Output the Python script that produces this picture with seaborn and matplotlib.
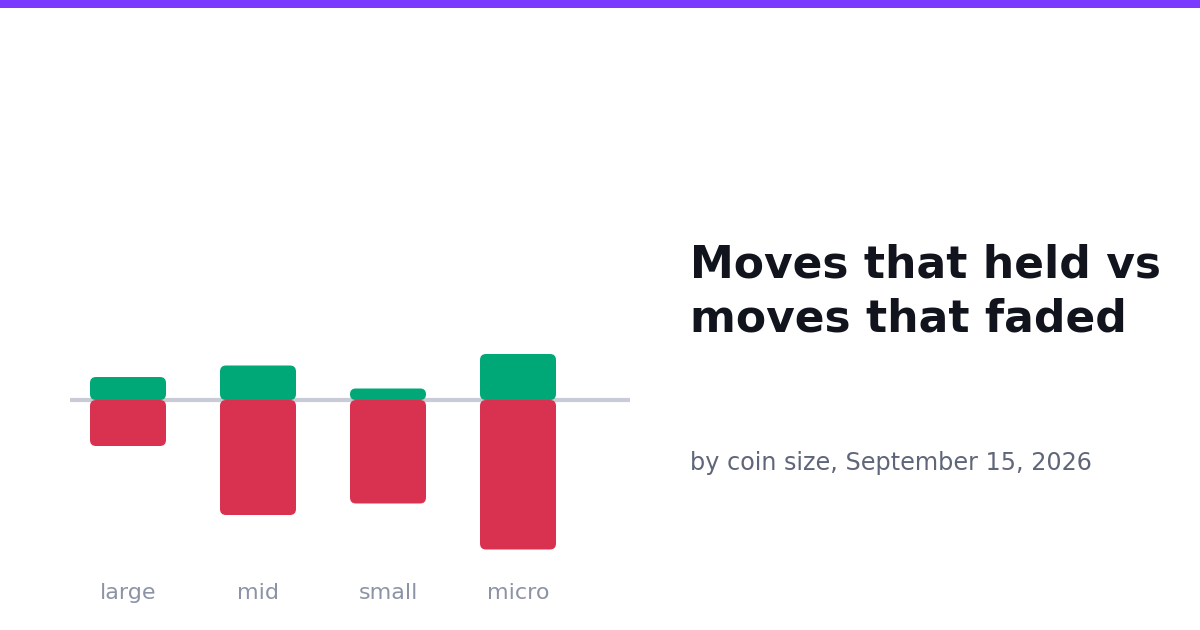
import matplotlib
matplotlib.use("Agg")
import matplotlib.pyplot as plt
import seaborn as sns
import pandas as pd
from matplotlib.patches import FancyBboxPatch, Rectangle

categories = ["large", "mid", "small", "micro"]
held = [2, 3, 1, 4]
faded = [4, 10, 9, 13]

title = "Moves that held vs\nmoves that faded"
subtitle = "by coin size, September 15, 2026"

GREEN = "#00a878"
RED = "#d93250"
GRID = "#c9ccd7"
TICK = "#8c93a6"
TITLE_C = "#11141c"
SUB_C = "#5f6679"
PURPLE = "#7b38ff"

sns.set_theme(style="white")
plt.rcParams["font.family"] = ["DejaVu Sans"]

W, H = 1200, 630
fig = plt.figure(figsize=(W / 100, H / 100), dpi=100)
fig.patch.set_facecolor("white")

# top accent bar
fig.add_artist(Rectangle((0, 1 - 8 / H), 1, 8 / H, transform=fig.transFigure,
                         facecolor=PURPLE, edgecolor="none"))

# axes in pixel layout
x0, x1 = 70, 630
ytop, ybot = 330, 560
ax = fig.add_axes([x0 / W, 1 - ybot / H, (x1 - x0) / W, (ybot - ytop) / H])
ax.set_facecolor("none")

df = pd.DataFrame({"cat": categories, "held": held, "faded": [-v for v in faded]})
bw = 76 / 130
sns.barplot(data=df, x="cat", y="held", color=GREEN, width=bw, ax=ax,
            saturation=1, order=categories)
sns.barplot(data=df, x="cat", y="faded", color=RED, width=bw, ax=ax,
            saturation=1, order=categories)

pxu = 11.5  # pixels per unit
ax.set_ylim(-(ybot - 400) / pxu, (400 - ytop) / pxu)
ax.set_xlim((x0 - 128) / 130, (x1 - 128) / 130)

# replace bars with rounded ones
ppu_x = 130.0
rad_px = 6
patches = list(ax.patches)
for p in patches:
    bx, by = p.get_x(), p.get_y()
    w, h = p.get_width(), p.get_height()
    fc = p.get_facecolor()
    p.remove()
    y_lo = min(by, by + h)
    hh = abs(h)
    r = rad_px / ppu_x
    hh_px = hh * pxu
    rr = min(r, hh_px / 2 / ppu_x * 0.999)
    fb = FancyBboxPatch((bx + rr, y_lo + rr * ppu_x / pxu),
                        w - 2 * rr, hh - 2 * rr * ppu_x / pxu,
                        boxstyle=f"round,pad={rr}",
                        mutation_aspect=ppu_x / pxu,
                        facecolor=fc, edgecolor="none", zorder=3)
    ax.add_patch(fb)

ax.axhline(0, color=GRID, lw=3, zorder=2)

for s in ax.spines.values():
    s.set_visible(False)
ax.set_xlabel("")
ax.set_ylabel("")
ax.set_yticks([])
ax.tick_params(axis="x", length=0, pad=16.5, labelsize=16, labelcolor=TICK)

fig.text(690 / W, 1 - 244 / H, title, fontsize=31.7, fontweight="bold",
         color=TITLE_C, ha="left", va="top", linespacing=1.32)
fig.text(690 / W, 1 - 470 / H, subtitle, fontsize=17.2, color=SUB_C,
         ha="left", va="baseline")

fig.savefig("out.png", dpi=100, facecolor="white")
